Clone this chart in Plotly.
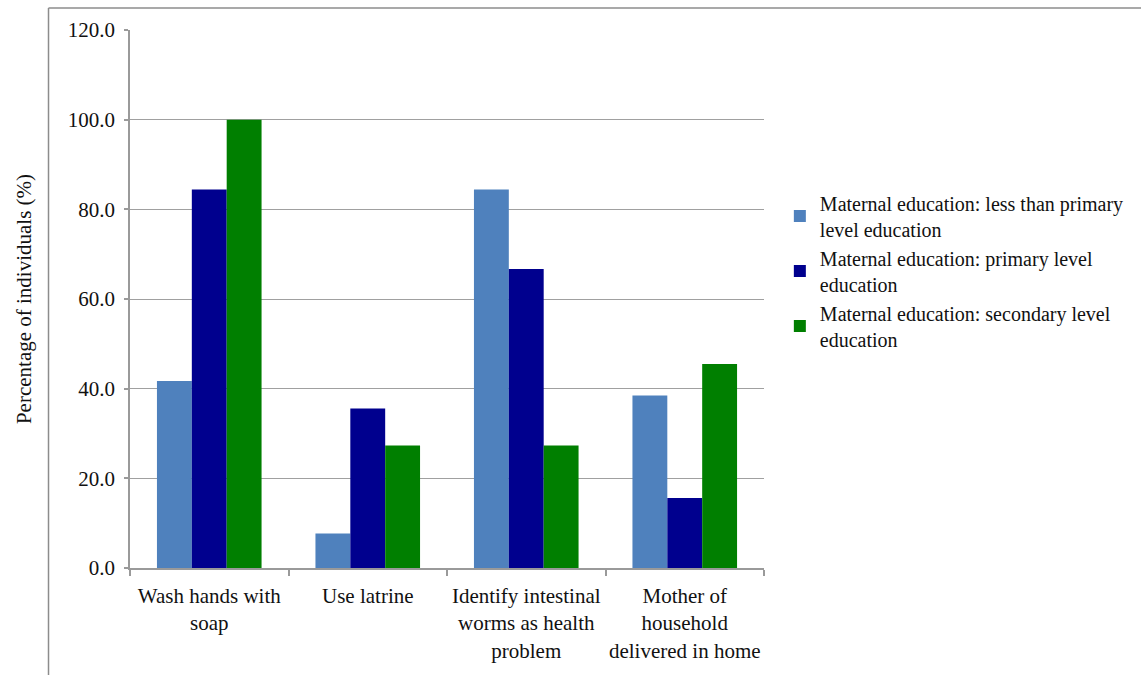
import plotly.graph_objects as go

categories = ["Wash hands with<br>soap", "Use latrine",
              "Identify intestinal<br>worms as health<br>problem",
              "Mother of<br>household<br>delivered in home"]
series_names = ["Maternal education: less than primary<br>level education",
                "Maternal education: primary level<br>education",
                "Maternal education: secondary level<br>education"]
less_than_primary = [41.7, 7.7, 84.4, 38.5]
primary = [84.4, 35.6, 66.7, 15.6]
secondary = [100.0, 27.3, 27.3, 45.5]
colors = ["#4F81BD", "#00008E", "#007F00"]
y_ticks = [0, 20, 40, 60, 80, 100, 120]

FONT = "Liberation Serif, Times New Roman, serif"

fig = go.Figure()
for name, vals, c in zip(series_names, [less_than_primary, primary, secondary], colors):
    fig.add_trace(go.Bar(x=categories, y=vals, name=name,
                         marker=dict(color=c, line=dict(width=0))))

fig.update_layout(
    width=1141, height=675,
    margin=dict(l=130, r=373, t=30, b=107),
    paper_bgcolor="white", plot_bgcolor="white",
    barmode="group", bargap=0.34, bargroupgap=0,
    font=dict(family=FONT, size=21, color="#111111"),
    legend=dict(x=1.025, y=0.552, xanchor="left", yanchor="middle",
                font=dict(family=FONT, size=20, color="#111111"),
                itemwidth=30, tracegroupgap=0, bgcolor="rgba(0,0,0,0)"),
    xaxis=dict(showline=True, linecolor="#9a9a9a", linewidth=1.5,
               ticks="outside", tickson="boundaries", ticklen=6,
               tickcolor="#9a9a9a", tickwidth=1.5, ticklabelstandoff=8,
               tickangle=0, automargin=False,
               tickfont=dict(family=FONT, size=21, color="#111111"),
               showgrid=False),
    yaxis=dict(range=[0, 120], tickvals=y_ticks,
               ticktext=[f"{v:.1f}" for v in y_ticks],
               showline=True, linecolor="#9a9a9a", linewidth=1.5,
               ticks="outside", ticklen=4, tickcolor="#9a9a9a", tickwidth=1.5,
               ticklabelstandoff=5, automargin=False,
               showgrid=True, gridcolor="#a0a0a0", gridwidth=1.2,
               zeroline=False,
               tickfont=dict(family=FONT, size=21, color="#111111"),
               title=dict(text="Percentage of individuals (%)", standoff=30,
                          font=dict(family=FONT, size=21, color="#111111"))),
)

# outer frame (left and top borders of the original chart box)
fx = (48 - 130) / 638
fy = (568 - 8) / 538
fig.add_shape(type="line", xref="paper", yref="paper",
              x0=fx, x1=fx, y0=-0.3, y1=fy, line=dict(color="#8c8c8c", width=1.5))
fig.add_shape(type="line", xref="paper", yref="paper",
              x0=fx, x1=1.7, y0=fy, y1=fy, line=dict(color="#8c8c8c", width=1.5))

fig.write_html("out.html")
